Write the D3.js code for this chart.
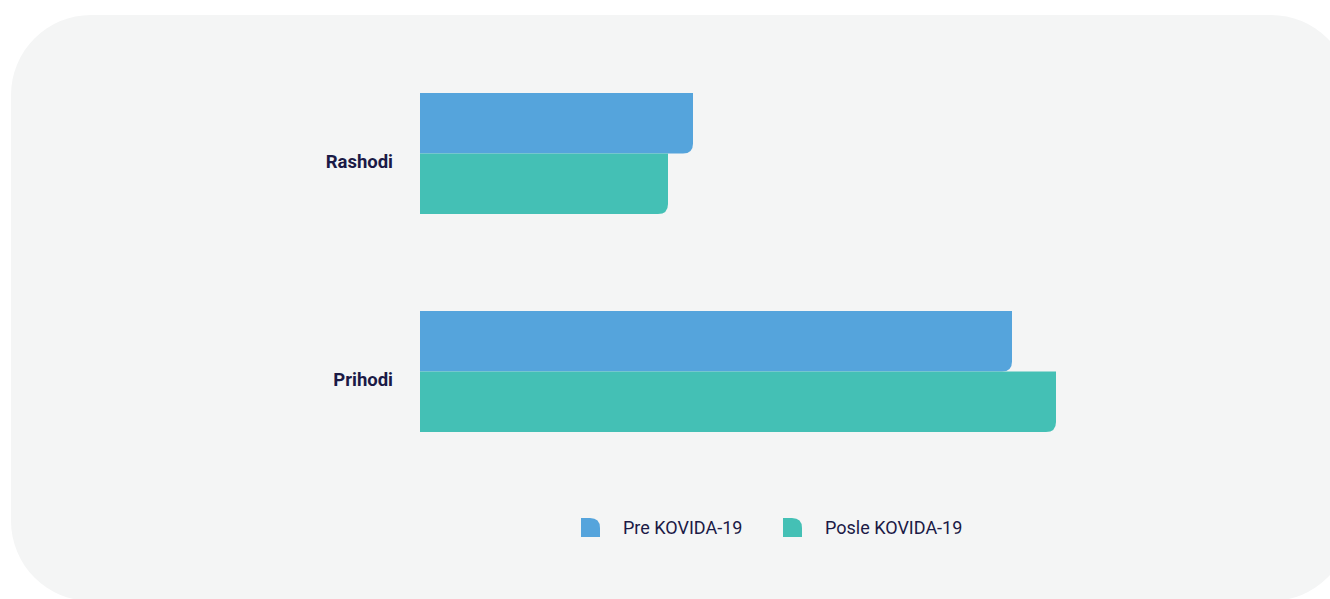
<!DOCTYPE html>
<html>
<head>
<meta charset="utf-8">
<script src="https://cdn.jsdelivr.net/npm/d3@7"></script>
<style>
  body { margin: 0; background: #ffffff; font-family: Roboto, "Noto Sans", sans-serif; }
</style>
</head>
<body>
<div id="chart"></div>
<script>
const categories = ["Rashodi", "Prihodi"];
const seriesNames = ["Pre KOVIDA-19", "Posle KOVIDA-19"];
const preValues = [273, 592];
const posleValues = [248, 636];
const colors = ["#55a4dc", "#44c0b5"];

const W = 1330, H = 599;

const svg = d3.select("#chart")
    .append("svg")
    .attr("width", W)
    .attr("height", H);

// panel background
svg.append("rect")
    .attr("x", 11)
    .attr("y", 15)
    .attr("width", 1340)
    .attr("height", 586)
    .attr("rx", 80)
    .attr("ry", 80)
    .style("fill", "#f4f5f5");

const dataset = categories.map((c, i) => ({cat: c, values: [preValues[i], posleValues[i]]}));

const yScale = d3.scaleBand()
    .domain(categories)
    .range([45, 480])
    .paddingInner(0.445)
    .paddingOuter(0.22);

const ySub = d3.scaleBand()
    .domain(seriesNames)
    .range([0, yScale.bandwidth()]);

const xScale = d3.scaleLinear()
    .domain([0, 636])
    .range([420, 1056]);

// bar with rounded bottom-right corner only
function barPath(x0, y0, x1, y1, r) {
    r = Math.min(r, x1 - x0, y1 - y0);
    return `M${x0},${y0}H${x1}V${y1 - r}Q${x1},${y1} ${x1 - r},${y1}H${x0}Z`;
}

const groups = svg.selectAll(".grp")
    .data(dataset)
    .enter()
    .append("g")
    .attr("class", "grp")
    .attr("transform", (d) => `translate(0, ${yScale(d.cat)})`);

groups.selectAll("path")
    .data((d) => d.values.map((v, i) => ({name: seriesNames[i], value: v, i: i})))
    .enter()
    .append("path")
    .attr("d", (d) => barPath(xScale(0), ySub(d.name), xScale(d.value), ySub(d.name) + ySub.bandwidth(), 10))
    .style("fill", (d) => colors[d.i]);

// category labels
const yAxis = svg.append("g")
    .attr("transform", "translate(393, 9)")
    .call(d3.axisLeft(yScale).tickSize(0).tickPadding(0));
yAxis.select(".domain").remove();
yAxis.selectAll("text")
    .style("font-family", "Roboto, sans-serif")
    .style("font-size", "18.5px")
    .style("font-weight", "bold")
    .style("fill", "#1b1a46");

// legend
const legendX = [581, 783];
const legend = svg.selectAll(".legend")
    .data(seriesNames)
    .enter()
    .append("g")
    .attr("class", "legend")
    .attr("transform", (d, i) => `translate(${legendX[i]}, 518)`);

legend.append("path")
    .attr("d", "M0,0H9Q19,0 19,10V19H0Z")
    .style("fill", (d, i) => colors[i]);

legend.append("text")
    .attr("x", 42)
    .attr("y", 16)
    .text((d) => d)
    .style("font-family", "Roboto, sans-serif")
    .style("font-size", "18px")
    .style("fill", "#1b1a46");
</script>
</body>
</html>
